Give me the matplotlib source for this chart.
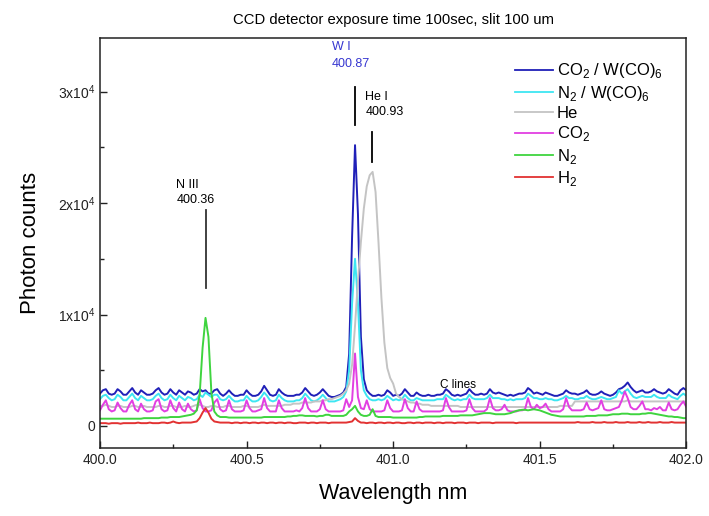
import matplotlib
matplotlib.use("Agg")
import matplotlib.pyplot as plt
import numpy as np
from matplotlib.ticker import MultipleLocator, FixedLocator, FuncFormatter

plt.rcParams['font.family'] = ['Liberation Sans', 'DejaVu Sans']
plt.rcParams['mathtext.fontset'] = 'custom'
plt.rcParams['mathtext.rm'] = 'Liberation Sans'

# wavelength grid, 0.01 nm steps
wavelength = np.linspace(400.0, 402.0, 201)

co2_wco6 = [
    2900, 3200, 3300, 2900, 2800, 2900, 3300, 3100, 2800, 2800,
    3100, 3400, 3000, 2800, 3200, 3000, 2800, 2800, 2900, 3200,
    3400, 3000, 2800, 2900, 3300, 3000, 2800, 3200, 3000, 2800,
    3100, 3000, 2800, 2900, 3300, 3100, 3200, 2900, 2900, 3200,
    3300, 2900, 2700, 2900, 3200, 2900, 2700, 2700, 2800, 2800,
    3200, 2900, 2700, 2700, 2800, 3100, 3600, 3200, 2800, 2700,
    2800, 3300, 3000, 2800, 2700, 2700, 2700, 2800, 2800, 3000,
    3400, 3100, 2800, 2700, 2800, 3000, 3300, 3000, 2700, 2600,
    2600, 2700, 2800, 3000, 3500, 6500, 17000, 25200, 19000, 8000,
    4200, 3200, 2900, 2700, 2700, 2800, 2700, 2800, 3200, 3000,
    2700, 2800, 2700, 2900, 3300, 3000, 2700, 2700, 3000, 2800,
    2700, 2700, 2800, 2700, 2700, 2800, 2800, 2900, 3300, 3100,
    2800, 2700, 2800, 2700, 2800, 2900, 3300, 3000, 2800, 2800,
    2900, 2800, 2900, 3300, 3000, 2900, 3000, 2900, 2800, 2700,
    2800, 2700, 2800, 2900, 2900, 3000, 3400, 3200, 2900, 3000,
    2900, 2800, 3000, 2900, 2800, 2700, 2700, 2800, 2900, 3200,
    3000, 2900, 2900, 2800, 2900, 3000, 3200, 2900, 2800, 2800,
    2900, 3100, 2900, 2800, 2700, 2800, 3000, 3300, 3400, 3600,
    3900, 3500, 3200, 3000, 3100, 3200, 3000, 3000, 3100, 3300,
    3100, 3000, 2900, 3000, 3300, 3100, 2900, 2800, 3200, 3400,
    3200,
]

n2_wco6 = [
    2400, 2700, 2800, 2500, 2300, 2400, 2800, 2600, 2300, 2300,
    2600, 2900, 2500, 2300, 2700, 2500, 2300, 2300, 2400, 2700,
    2900, 2500, 2300, 2400, 2800, 2500, 2300, 2700, 2500, 2300,
    2600, 2500, 2300, 2400, 2800, 2600, 3000, 2800, 2600, 2800,
    2800, 2400, 2300, 2400, 2700, 2400, 2200, 2200, 2300, 2300,
    2700, 2400, 2200, 2200, 2300, 2600, 3000, 2700, 2300, 2200,
    2300, 2800, 2500, 2300, 2200, 2200, 2200, 2300, 2300, 2500,
    2900, 2600, 2300, 2200, 2300, 2500, 2800, 2500, 2200, 2200,
    2200, 2300, 2400, 2600, 3100, 5000, 11000, 15000, 11000, 5000,
    3200, 2700, 2400, 2300, 2300, 2400, 2300, 2400, 2700, 2500,
    2300, 2400, 2300, 2400, 2800, 2500, 2300, 2300, 2500, 2400,
    2300, 2300, 2300, 2300, 2300, 2400, 2400, 2400, 2800, 2600,
    2400, 2300, 2400, 2300, 2400, 2400, 2800, 2500, 2400, 2400,
    2400, 2400, 2500, 2800, 2500, 2500, 2500, 2400, 2400, 2300,
    2400, 2300, 2400, 2400, 2400, 2500, 2900, 2700, 2500, 2500,
    2400, 2400, 2500, 2400, 2400, 2300, 2300, 2400, 2500, 2700,
    2500, 2500, 2400, 2400, 2500, 2500, 2700, 2500, 2400, 2400,
    2500, 2600, 2500, 2400, 2400, 2500, 2600, 3200, 2900, 3100,
    3300, 2900, 2600, 2500, 2600, 2700, 2600, 2600, 2600, 2800,
    2600, 2500, 2500, 2500, 2800, 2600, 2500, 2400, 2700, 2900,
    2700,
]

he = [
    1800, 1800, 1900, 1800, 1700, 1700, 1800, 1800, 1700, 1700,
    1700, 1800, 1800, 1700, 1700, 1800, 1700, 1700, 1700, 1700,
    1800, 1800, 1700, 1700, 1800, 1800, 1700, 1700, 1700, 1800,
    1700, 1700, 1800, 1900, 1900, 1800, 1700, 1700, 1800, 1800,
    1700, 1700, 1700, 1800, 1800, 1700, 1700, 1700, 1700, 1800,
    1800, 1700, 1700, 1700, 1700, 1800, 1900, 1800, 1800, 1800,
    1800, 1800, 1800, 1900, 1900, 1900, 2000, 2000, 2000, 2100,
    2100, 2100, 2100, 2200, 2200, 2200, 2300, 2300, 2400, 2400,
    2500, 2600, 2700, 2900, 3200, 3800, 5500, 9000, 13000, 16500,
    19500, 21500, 22500, 22800, 21000, 16500, 11500, 7500, 5200, 4300,
    3800, 2900, 2600, 2400, 2300, 2200, 2100, 2100, 2000, 2000,
    1900, 1900, 1900, 1800, 1800, 1800, 1800, 1800, 1800, 1800,
    1800, 1800, 1800, 1700, 1700, 1700, 1700, 1700, 1700, 1700,
    1700, 1700, 1700, 1700, 1700, 1700, 1700, 1700, 1700, 1700,
    1700, 1700, 1700, 1700, 1700, 1700, 1700, 1700, 1700, 1700,
    1700, 1700, 1700, 1700, 1700, 1700, 1700, 1800, 1800, 1800,
    1800, 1800, 2200, 2200, 2200, 2200, 2200, 2200, 2200, 2200,
    2200, 2200, 2200, 2200, 2200, 2200, 2200, 2200, 2200, 2200,
    2300, 2200, 2200, 2200, 2200, 2200, 2200, 2200, 2200, 2200,
    2200, 2200, 2200, 2200, 2200, 2200, 2200, 2200, 2200, 2200,
    2200,
]

co2 = [
    1400, 1900, 2300, 1500, 1300, 1400, 2100, 1600, 1300, 1300,
    1900, 2300, 1500, 1300, 2000, 1500, 1300, 1300, 1400, 2200,
    2400, 1500, 1300, 1400, 2300, 1600, 1300, 2100, 1500, 1300,
    2000, 1500, 1300, 1400, 2400, 1600, 1300, 1300, 1400, 2100,
    2400, 1500, 1300, 1400, 2300, 1500, 1300, 1300, 1300, 1400,
    2300, 1600, 1300, 1300, 1400, 1500, 2500, 1600, 1300, 1300,
    1300, 2300, 1600, 1300, 1300, 1300, 1300, 1400, 1300, 1600,
    2500, 1600, 1300, 1300, 1300, 1500, 2300, 1500, 1300, 1300,
    1300, 1300, 1300, 1400, 2400, 1700, 2300, 6500, 2600, 1600,
    1500, 2300, 1500, 1300, 1300, 1300, 1300, 1400, 2300, 1600,
    1300, 1300, 1300, 1400, 2400, 1600, 1300, 1300, 2200, 1500,
    1300, 1300, 1300, 1300, 1300, 1300, 1300, 1400, 2500, 1700,
    1300, 1300, 1300, 1300, 1300, 1400, 2400, 1600, 1300, 1300,
    1300, 1300, 1500, 2500, 1600, 1400, 1400, 1500, 1900, 1400,
    1300, 1300, 1300, 1400, 1400, 1500, 2500, 1700, 1500, 1900,
    1600, 1700, 2000, 1500, 1300, 1300, 1300, 1300, 1500, 2500,
    1700, 1400, 1400, 1400, 1400, 1500, 2100, 1500, 1400, 1500,
    1600, 2300, 1500, 1400, 1400, 1500, 1600, 1700, 2300, 3100,
    2500, 1700, 1500, 1500, 1800, 2200, 1500, 1500, 1400, 1600,
    1500, 1700, 1400, 1400, 2100, 1500, 1400, 1500, 1900, 2200,
    1700,
]

n2 = [
    650, 650, 650, 650, 650, 650, 650, 650, 650, 650,
    650, 650, 650, 650, 650, 700, 700, 700, 700, 700,
    700, 750, 750, 750, 800, 800, 800, 800, 850, 900,
    950, 1000, 1100, 1400, 2800, 7000, 9700, 8000, 3000, 1300,
    950, 800, 800, 800, 750, 750, 750, 750, 750, 750,
    750, 750, 750, 750, 750, 750, 800, 800, 800, 800,
    800, 800, 800, 800, 850, 850, 900, 900, 950, 950,
    900, 900, 900, 900, 850, 900, 900, 1000, 1000, 900,
    900, 900, 900, 900, 1000, 1300, 1500, 1800, 1300, 1000,
    900, 900, 1000, 1500, 900, 800, 800, 800, 800, 800,
    750, 750, 750, 750, 750, 750, 750, 750, 750, 800,
    800, 850, 850, 850, 850, 850, 850, 900, 900, 900,
    900, 900, 900, 950, 950, 950, 950, 950, 1000, 1050,
    1100, 1150, 1150, 1150, 1100, 1050, 1050, 1050, 1050, 1100,
    1150, 1250, 1350, 1400, 1450, 1450, 1400, 1450, 1500, 1450,
    1400, 1300, 1200, 1100, 1000, 950, 900, 850, 850, 850,
    850, 850, 850, 850, 850, 850, 900, 900, 900, 900,
    950, 950, 950, 950, 1000, 1050, 1050, 1050, 1100, 1100,
    1100, 1050, 1050, 1050, 1050, 1100, 1100, 1150, 1150, 1100,
    1050, 1000, 950, 900, 850, 850, 800, 800, 750, 700,
    700,
]

h2 = [
    250, 250, 250, 200, 250, 250, 250, 200, 250, 250,
    250, 250, 250, 300, 250, 250, 250, 300, 250, 250,
    250, 300, 300, 250, 300, 400, 300, 250, 300, 300,
    300, 300, 350, 400, 700, 1200, 1600, 1200, 650, 400,
    350, 300, 300, 300, 300, 250, 300, 300, 250, 300,
    300, 250, 300, 300, 250, 300, 300, 250, 300, 300,
    250, 300, 300, 250, 300, 300, 250, 250, 300, 300,
    300, 250, 300, 300, 250, 300, 300, 300, 250, 300,
    300, 300, 300, 300, 300, 350, 400, 700, 450, 300,
    300, 250, 300, 300, 250, 300, 300, 250, 300, 300,
    250, 300, 300, 250, 250, 300, 300, 250, 300, 300,
    250, 300, 300, 300, 250, 300, 300, 250, 300, 300,
    300, 250, 300, 300, 300, 250, 300, 300, 300, 250,
    300, 300, 300, 300, 250, 300, 300, 300, 300, 300,
    300, 300, 250, 300, 300, 300, 300, 300, 300, 300,
    300, 300, 300, 300, 300, 300, 300, 300, 300, 300,
    300, 300, 300, 350, 300, 300, 300, 300, 350, 300,
    300, 300, 350, 300, 300, 300, 350, 300, 300, 300,
    350, 300, 300, 300, 350, 300, 300, 350, 300, 300,
    300, 350, 300, 300, 300, 350, 300, 300, 300, 300,
    300,
]

series = [
    (co2_wco6, r'CO$_2$ / W(CO)$_6$', '#2020b8'),
    (n2_wco6, r'N$_2$ / W(CO)$_6$', '#3ee6f2'),
    (he, 'He', '#c4c4c4'),
    (co2, r'CO$_2$', '#e23fe2'),
    (n2, r'N$_2$', '#3fd43f'),
    (h2, r'H$_2$', '#e23232'),
]

fig = plt.figure(figsize=(7.09, 5.16), dpi=100)
ax = fig.add_axes([0.141, 0.132, 0.827, 0.794])

for vals, label, color in series:
    ax.plot(wavelength, vals, color=color, lw=1.4, label=label)

ax.set_xlim(400.0, 402.0)
ax.set_ylim(-1970, 34800)

ax.xaxis.set_major_locator(MultipleLocator(0.5))
ax.xaxis.set_minor_locator(MultipleLocator(0.25))
ax.xaxis.set_major_formatter(FuncFormatter(lambda v, p: f"{v:.1f}"))
ax.yaxis.set_major_locator(FixedLocator([0, 10000, 20000, 30000]))
ax.yaxis.set_minor_locator(FixedLocator([5000, 15000, 25000]))
ax.yaxis.set_major_formatter(FuncFormatter(
    lambda v, p: "0" if v == 0 else f"{int(v / 10000)}x10$^4$"))
ax.tick_params(which='both', direction='in', top=False, right=False,
               labelsize=10, colors='#222222')
ax.tick_params(which='major', length=5, width=1)
ax.tick_params(which='minor', length=3, width=1)
for s in ax.spines.values():
    s.set_linewidth(1.1)
    s.set_color('#222222')

ax.set_xlabel('Wavelength nm', fontsize=15.5, labelpad=12)
ax.set_ylabel('Photon counts', fontsize=16, labelpad=12)
ax.set_title('CCD detector exposure time 100sec, slit 100 um', fontsize=10.7, pad=10)

# line identifications
ax.text(400.79, 31900, 'W I\n400.87', color='#3535d0', fontsize=9,
        ha='left', va='bottom', linespacing=1.6)
ax.plot([400.87, 400.87], [27000, 30400], color='black', lw=1.3)
ax.text(400.905, 27600, 'He I\n400.93', color='black', fontsize=9,
        ha='left', va='bottom', linespacing=1.4)
ax.plot([400.928, 400.928], [23700, 26400], color='black', lw=1.3)
ax.text(400.26, 19700, 'N III\n400.36', color='black', fontsize=9,
        ha='left', va='bottom', linespacing=1.4)
ax.plot([400.363, 400.363], [12400, 19400], color='#333333', lw=1.3)
ax.text(401.16, 3700, 'C lines', color='black', fontsize=8.5,
        ha='left', va='center')

leg = ax.legend(loc='upper right', bbox_to_anchor=(0.985, 0.98), frameon=False,
                fontsize=12, handlelength=2.3, labelspacing=0.2, handletextpad=0.2)
for line in leg.get_lines():
    line.set_linewidth(1.3)

fig.savefig('out.png', dpi=100)
